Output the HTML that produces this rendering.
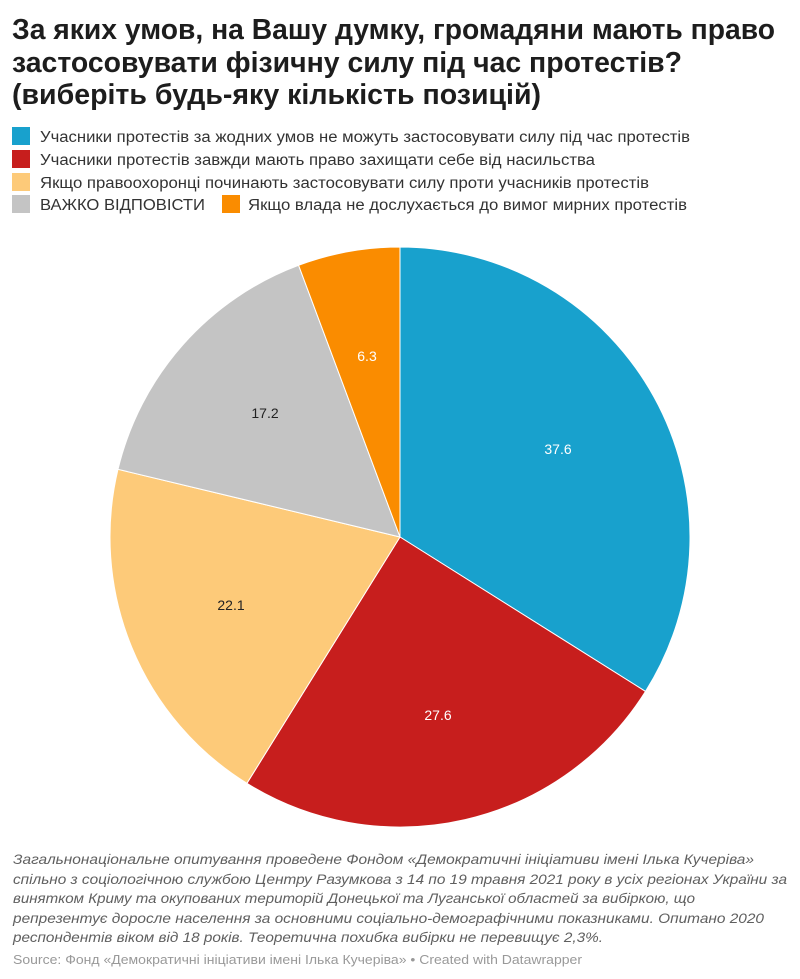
<!DOCTYPE html>
<html><head><meta charset="utf-8"><style>
html,body{margin:0;padding:0;background:#fff;}
svg{display:block;font-family:"Liberation Sans",sans-serif;}
</style></head><body>
<svg width="800" height="979" viewBox="0 0 800 979" xmlns="http://www.w3.org/2000/svg">
<g font-weight="bold" font-size="28.5" fill="#1d1d1d">
<text x="12" y="39" textLength="763" lengthAdjust="spacingAndGlyphs">За яких умов, на Вашу думку, громадяни мають право</text>
<text x="12" y="72" textLength="670" lengthAdjust="spacingAndGlyphs">застосовувати фізичну силу під час протестів?</text>
<text x="12" y="104" textLength="529" lengthAdjust="spacingAndGlyphs">(виберіть будь-яку кількість позицій)</text>
</g>
<g font-size="15.5" fill="#333">
<rect x="12" y="127" width="18" height="18" fill="#18a1cd"/>
<text x="40" y="142" textLength="650" lengthAdjust="spacingAndGlyphs">Учасники протестів за жодних умов не можуть застосовувати силу під час протестів</text>
<rect x="12" y="150" width="18" height="18" fill="#c71e1d"/>
<text x="40" y="165" textLength="555" lengthAdjust="spacingAndGlyphs">Учасники протестів завжди мають право захищати себе від насильства</text>
<rect x="12" y="173" width="18" height="18" fill="#fdca79"/>
<text x="40" y="188" textLength="609" lengthAdjust="spacingAndGlyphs">Якщо правоохоронці починають застосовувати силу проти учасників протестів</text>
<rect x="12" y="195" width="18" height="18" fill="#c4c4c4"/>
<text x="40" y="210" textLength="165" lengthAdjust="spacingAndGlyphs">ВАЖКО ВІДПОВІСТИ</text>
<rect x="222" y="195" width="18" height="18" fill="#fa8c00"/>
<text x="248" y="210" textLength="439" lengthAdjust="spacingAndGlyphs">Якщо влада не дослухається до вимог мирних протестів</text>
</g>
<g stroke="#fff" stroke-width="1">
<path d="M400 537 L400 247 A290 290 0 0 1 645.5 691.4 Z" fill="#18a1cd"/>
<path d="M400 537 L645.5 691.4 A290 290 0 0 1 246.9 783.3 Z" fill="#c71e1d"/>
<path d="M400 537 L246.9 783.3 A290 290 0 0 1 118.0 469.3 Z" fill="#fdca79"/>
<path d="M400 537 L118.0 469.3 A290 290 0 0 1 298.6 265.3 Z" fill="#c4c4c4"/>
<path d="M400 537 L298.6 265.3 A290 290 0 0 1 400 247 Z" fill="#fa8c00"/>
</g>
<g font-size="14" text-anchor="middle">
<text x="558" y="454" fill="#fff">37.6</text>
<text x="438" y="720" fill="#fff">27.6</text>
<text x="231" y="610" fill="#222">22.1</text>
<text x="265" y="418" fill="#222">17.2</text>
<text x="367" y="361" fill="#fff">6.3</text>
</g>
<g font-size="14" font-style="italic" fill="#5f5f5f">
<text x="13" y="864" textLength="741" lengthAdjust="spacingAndGlyphs">Загальнонаціональне опитування проведене Фондом «Демократичні ініціативи імені Ілька Кучеріва»</text>
<text x="13" y="884" textLength="774" lengthAdjust="spacingAndGlyphs">спільно з соціологічною службою Центру Разумкова з 14 по 19 травня 2021 року в усіх регіонах України за</text>
<text x="13" y="903" textLength="682" lengthAdjust="spacingAndGlyphs">винятком Криму та окупованих територій Донецької та Луганської областей за вибіркою, що</text>
<text x="13" y="923" textLength="751" lengthAdjust="spacingAndGlyphs">репрезентує доросле населення за основними соціально-демографічними показниками. Опитано 2020</text>
<text x="13" y="942" textLength="590" lengthAdjust="spacingAndGlyphs">респондентів віком від 18 років. Теоретична похибка вибірки не перевищує 2,3%.</text>
</g>
<text x="13" y="964" font-size="13" fill="#999" textLength="569" lengthAdjust="spacingAndGlyphs">Source: Фонд «Демократичні ініціативи імені Ілька Кучеріва» • Created with Datawrapper</text>
</svg>
</body></html>
